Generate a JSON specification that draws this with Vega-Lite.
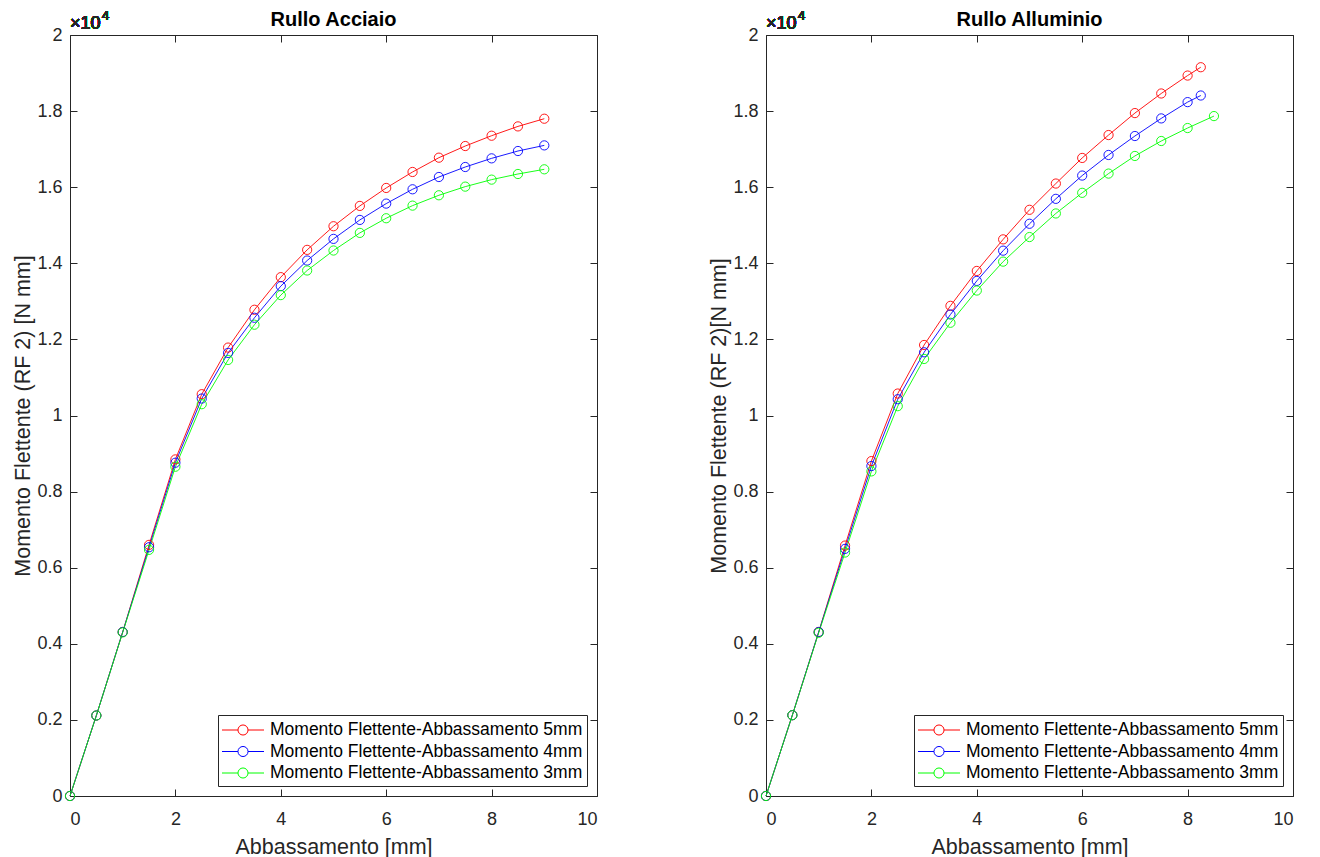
{
  "$schema": "https://vega.github.io/schema/vega-lite/v6.json",
  "background": "white",
  "padding": {"left": 12, "top": 9, "right": 20, "bottom": 0},
  "config": {
    "font": "Liberation Sans",
    "view": {"stroke": "#262626", "strokeWidth": 1},
    "axis": {"grid": false, "domainColor": "#262626", "tickColor": "#262626", "labelColor": "#262626", "titleColor": "#262626", "labelFont": "Liberation Sans", "titleFont": "Liberation Sans", "labelFontSize": 18, "titleFontSize": 21.5, "titleFontWeight": "normal", "tickSize": -7, "domainWidth": 1},
    "title": {"font": "Liberation Sans", "fontSize": 20, "fontWeight": "bold", "color": "#000000", "offset": -20},
    "legend": {"labelFont": "Liberation Sans"}
  },
  "datasets": {
    "d": [
      {"p": "A", "s": "Momento Flettente-Abbassamento 5mm", "x": 0, "y": 0},
      {"p": "A", "s": "Momento Flettente-Abbassamento 5mm", "x": 0.5, "y": 2115},
      {"p": "A", "s": "Momento Flettente-Abbassamento 5mm", "x": 1, "y": 4310},
      {"p": "A", "s": "Momento Flettente-Abbassamento 5mm", "x": 1.5, "y": 6600},
      {"p": "A", "s": "Momento Flettente-Abbassamento 5mm", "x": 2, "y": 8846},
      {"p": "A", "s": "Momento Flettente-Abbassamento 5mm", "x": 2.5, "y": 10560},
      {"p": "A", "s": "Momento Flettente-Abbassamento 5mm", "x": 3, "y": 11785},
      {"p": "A", "s": "Momento Flettente-Abbassamento 5mm", "x": 3.5, "y": 12779},
      {"p": "A", "s": "Momento Flettente-Abbassamento 5mm", "x": 4, "y": 13636},
      {"p": "A", "s": "Momento Flettente-Abbassamento 5mm", "x": 4.5, "y": 14353},
      {"p": "A", "s": "Momento Flettente-Abbassamento 5mm", "x": 5, "y": 14974},
      {"p": "A", "s": "Momento Flettente-Abbassamento 5mm", "x": 5.5, "y": 15508},
      {"p": "A", "s": "Momento Flettente-Abbassamento 5mm", "x": 6, "y": 15980},
      {"p": "A", "s": "Momento Flettente-Abbassamento 5mm", "x": 6.5, "y": 16400},
      {"p": "A", "s": "Momento Flettente-Abbassamento 5mm", "x": 7, "y": 16776},
      {"p": "A", "s": "Momento Flettente-Abbassamento 5mm", "x": 7.5, "y": 17082},
      {"p": "A", "s": "Momento Flettente-Abbassamento 5mm", "x": 8, "y": 17353},
      {"p": "A", "s": "Momento Flettente-Abbassamento 5mm", "x": 8.5, "y": 17598},
      {"p": "A", "s": "Momento Flettente-Abbassamento 5mm", "x": 9, "y": 17800},
      {"p": "A", "s": "Momento Flettente-Abbassamento 4mm", "x": 0, "y": 0},
      {"p": "A", "s": "Momento Flettente-Abbassamento 4mm", "x": 0.5, "y": 2115},
      {"p": "A", "s": "Momento Flettente-Abbassamento 4mm", "x": 1, "y": 4310},
      {"p": "A", "s": "Momento Flettente-Abbassamento 4mm", "x": 1.5, "y": 6538},
      {"p": "A", "s": "Momento Flettente-Abbassamento 4mm", "x": 2, "y": 8759},
      {"p": "A", "s": "Momento Flettente-Abbassamento 4mm", "x": 2.5, "y": 10446},
      {"p": "A", "s": "Momento Flettente-Abbassamento 4mm", "x": 3, "y": 11645},
      {"p": "A", "s": "Momento Flettente-Abbassamento 4mm", "x": 3.5, "y": 12569},
      {"p": "A", "s": "Momento Flettente-Abbassamento 4mm", "x": 4, "y": 13400},
      {"p": "A", "s": "Momento Flettente-Abbassamento 4mm", "x": 4.5, "y": 14073},
      {"p": "A", "s": "Momento Flettente-Abbassamento 4mm", "x": 5, "y": 14642},
      {"p": "A", "s": "Momento Flettente-Abbassamento 4mm", "x": 5.5, "y": 15140},
      {"p": "A", "s": "Momento Flettente-Abbassamento 4mm", "x": 6, "y": 15569},
      {"p": "A", "s": "Momento Flettente-Abbassamento 4mm", "x": 6.5, "y": 15945},
      {"p": "A", "s": "Momento Flettente-Abbassamento 4mm", "x": 7, "y": 16268},
      {"p": "A", "s": "Momento Flettente-Abbassamento 4mm", "x": 7.5, "y": 16531},
      {"p": "A", "s": "Momento Flettente-Abbassamento 4mm", "x": 8, "y": 16758},
      {"p": "A", "s": "Momento Flettente-Abbassamento 4mm", "x": 8.5, "y": 16951},
      {"p": "A", "s": "Momento Flettente-Abbassamento 4mm", "x": 9, "y": 17099},
      {"p": "A", "s": "Momento Flettente-Abbassamento 3mm", "x": 0, "y": 0},
      {"p": "A", "s": "Momento Flettente-Abbassamento 3mm", "x": 0.5, "y": 2115},
      {"p": "A", "s": "Momento Flettente-Abbassamento 3mm", "x": 1, "y": 4300},
      {"p": "A", "s": "Momento Flettente-Abbassamento 3mm", "x": 1.5, "y": 6469},
      {"p": "A", "s": "Momento Flettente-Abbassamento 3mm", "x": 2, "y": 8654},
      {"p": "A", "s": "Momento Flettente-Abbassamento 3mm", "x": 2.5, "y": 10297},
      {"p": "A", "s": "Momento Flettente-Abbassamento 3mm", "x": 3, "y": 11460},
      {"p": "A", "s": "Momento Flettente-Abbassamento 3mm", "x": 3.5, "y": 12386},
      {"p": "A", "s": "Momento Flettente-Abbassamento 3mm", "x": 4, "y": 13164},
      {"p": "A", "s": "Momento Flettente-Abbassamento 3mm", "x": 4.5, "y": 13811},
      {"p": "A", "s": "Momento Flettente-Abbassamento 3mm", "x": 5, "y": 14336},
      {"p": "A", "s": "Momento Flettente-Abbassamento 3mm", "x": 5.5, "y": 14799},
      {"p": "A", "s": "Momento Flettente-Abbassamento 3mm", "x": 6, "y": 15184},
      {"p": "A", "s": "Momento Flettente-Abbassamento 3mm", "x": 6.5, "y": 15516},
      {"p": "A", "s": "Momento Flettente-Abbassamento 3mm", "x": 7, "y": 15788},
      {"p": "A", "s": "Momento Flettente-Abbassamento 3mm", "x": 7.5, "y": 16015},
      {"p": "A", "s": "Momento Flettente-Abbassamento 3mm", "x": 8, "y": 16199},
      {"p": "A", "s": "Momento Flettente-Abbassamento 3mm", "x": 8.5, "y": 16347},
      {"p": "A", "s": "Momento Flettente-Abbassamento 3mm", "x": 9, "y": 16470},
      {"p": "B", "s": "Momento Flettente-Abbassamento 5mm", "x": 0, "y": 0},
      {"p": "B", "s": "Momento Flettente-Abbassamento 5mm", "x": 0.5, "y": 2124},
      {"p": "B", "s": "Momento Flettente-Abbassamento 5mm", "x": 1, "y": 4310},
      {"p": "B", "s": "Momento Flettente-Abbassamento 5mm", "x": 1.5, "y": 6582},
      {"p": "B", "s": "Momento Flettente-Abbassamento 5mm", "x": 2, "y": 8802},
      {"p": "B", "s": "Momento Flettente-Abbassamento 5mm", "x": 2.5, "y": 10577},
      {"p": "B", "s": "Momento Flettente-Abbassamento 5mm", "x": 3, "y": 11853},
      {"p": "B", "s": "Momento Flettente-Abbassamento 5mm", "x": 3.5, "y": 12882},
      {"p": "B", "s": "Momento Flettente-Abbassamento 5mm", "x": 4, "y": 13799},
      {"p": "B", "s": "Momento Flettente-Abbassamento 5mm", "x": 4.5, "y": 14629},
      {"p": "B", "s": "Momento Flettente-Abbassamento 5mm", "x": 5, "y": 15406},
      {"p": "B", "s": "Momento Flettente-Abbassamento 5mm", "x": 5.5, "y": 16096},
      {"p": "B", "s": "Momento Flettente-Abbassamento 5mm", "x": 6, "y": 16769},
      {"p": "B", "s": "Momento Flettente-Abbassamento 5mm", "x": 6.5, "y": 17371},
      {"p": "B", "s": "Momento Flettente-Abbassamento 5mm", "x": 7, "y": 17948},
      {"p": "B", "s": "Momento Flettente-Abbassamento 5mm", "x": 7.5, "y": 18463},
      {"p": "B", "s": "Momento Flettente-Abbassamento 5mm", "x": 8, "y": 18934},
      {"p": "B", "s": "Momento Flettente-Abbassamento 5mm", "x": 8.25, "y": 19153},
      {"p": "B", "s": "Momento Flettente-Abbassamento 4mm", "x": 0, "y": 0},
      {"p": "B", "s": "Momento Flettente-Abbassamento 4mm", "x": 0.5, "y": 2124},
      {"p": "B", "s": "Momento Flettente-Abbassamento 4mm", "x": 1, "y": 4310},
      {"p": "B", "s": "Momento Flettente-Abbassamento 4mm", "x": 1.5, "y": 6495},
      {"p": "B", "s": "Momento Flettente-Abbassamento 4mm", "x": 2, "y": 8671},
      {"p": "B", "s": "Momento Flettente-Abbassamento 4mm", "x": 2.5, "y": 10428},
      {"p": "B", "s": "Momento Flettente-Abbassamento 4mm", "x": 3, "y": 11661},
      {"p": "B", "s": "Momento Flettente-Abbassamento 4mm", "x": 3.5, "y": 12655},
      {"p": "B", "s": "Momento Flettente-Abbassamento 4mm", "x": 4, "y": 13537},
      {"p": "B", "s": "Momento Flettente-Abbassamento 4mm", "x": 4.5, "y": 14332},
      {"p": "B", "s": "Momento Flettente-Abbassamento 4mm", "x": 5, "y": 15039},
      {"p": "B", "s": "Momento Flettente-Abbassamento 4mm", "x": 5.5, "y": 15694},
      {"p": "B", "s": "Momento Flettente-Abbassamento 4mm", "x": 6, "y": 16306},
      {"p": "B", "s": "Momento Flettente-Abbassamento 4mm", "x": 6.5, "y": 16847},
      {"p": "B", "s": "Momento Flettente-Abbassamento 4mm", "x": 7, "y": 17345},
      {"p": "B", "s": "Momento Flettente-Abbassamento 4mm", "x": 7.5, "y": 17808},
      {"p": "B", "s": "Momento Flettente-Abbassamento 4mm", "x": 8, "y": 18236},
      {"p": "B", "s": "Momento Flettente-Abbassamento 4mm", "x": 8.25, "y": 18410},
      {"p": "B", "s": "Momento Flettente-Abbassamento 3mm", "x": 0, "y": 0},
      {"p": "B", "s": "Momento Flettente-Abbassamento 3mm", "x": 0.5, "y": 2124},
      {"p": "B", "s": "Momento Flettente-Abbassamento 3mm", "x": 1, "y": 4290},
      {"p": "B", "s": "Momento Flettente-Abbassamento 3mm", "x": 1.5, "y": 6399},
      {"p": "B", "s": "Momento Flettente-Abbassamento 3mm", "x": 2, "y": 8531},
      {"p": "B", "s": "Momento Flettente-Abbassamento 3mm", "x": 2.5, "y": 10245},
      {"p": "B", "s": "Momento Flettente-Abbassamento 3mm", "x": 3, "y": 11486},
      {"p": "B", "s": "Momento Flettente-Abbassamento 3mm", "x": 3.5, "y": 12437},
      {"p": "B", "s": "Momento Flettente-Abbassamento 3mm", "x": 4, "y": 13284},
      {"p": "B", "s": "Momento Flettente-Abbassamento 3mm", "x": 4.5, "y": 14044},
      {"p": "B", "s": "Momento Flettente-Abbassamento 3mm", "x": 5, "y": 14690},
      {"p": "B", "s": "Momento Flettente-Abbassamento 3mm", "x": 5.5, "y": 15310},
      {"p": "B", "s": "Momento Flettente-Abbassamento 3mm", "x": 6, "y": 15852},
      {"p": "B", "s": "Momento Flettente-Abbassamento 3mm", "x": 6.5, "y": 16358},
      {"p": "B", "s": "Momento Flettente-Abbassamento 3mm", "x": 7, "y": 16821},
      {"p": "B", "s": "Momento Flettente-Abbassamento 3mm", "x": 7.5, "y": 17214},
      {"p": "B", "s": "Momento Flettente-Abbassamento 3mm", "x": 8, "y": 17555},
      {"p": "B", "s": "Momento Flettente-Abbassamento 3mm", "x": 8.5, "y": 17869}
    ]
  },
  "data": {"name": "d"},
  "spacing": 169,
  "bounds": "flush",
  "resolve": {"scale": {"color": "independent"}},
  "hconcat": [
    {
      "width": 527,
      "height": 761,
      "title": "Rullo Acciaio",
      "transform": [{"filter": "datum.p === 'A'"}],
      "resolve": {"axis": {"x": "independent", "y": "independent"}},
      "layer": [
        {
          "mark": {"type": "line", "strokeWidth": 0.9, "point": {"filled": false, "size": 85, "strokeWidth": 0.9}},
          "encoding": {
            "x": {"field": "x", "type": "quantitative", "scale": {"domain": [0, 10], "nice": false}, "axis": {"orient": "bottom", "values": [0, 2, 4, 6, 8, 10], "title": "Abbassamento [mm]", "domain": false, "labelPadding": 21, "titlePadding": 8}},
            "y": {"field": "y", "type": "quantitative", "scale": {"domain": [0, 20000], "nice": false}, "axis": {"orient": "left", "values": [0, 2000, 4000, 6000, 8000, 10000, 12000, 14000, 16000, 18000, 20000], "labelExpr": "'' + datum.value / 10000", "title": "Momento Flettente (RF 2) [N mm]", "domain": false, "labelPadding": 15, "titlePadding": 2}},
            "color": {"field": "s", "type": "nominal", "sort": null,
              "scale": {"domain": ["Momento Flettente-Abbassamento 5mm", "Momento Flettente-Abbassamento 4mm", "Momento Flettente-Abbassamento 3mm"], "range": ["#ff0000", "#0000ff", "#00ff00"]},
              "legend": {"title": null, "orient": "bottom-right", "offset": 10, "fillColor": "white", "strokeColor": "#262626", "padding": 4, "labelFontSize": 17.5, "labelColor": "#000000", "labelLimit": 500, "labelOffset": 26, "rowPadding": 1.5,
                "symbolType": "M-2,0H-0.48M0.48,0H2M-0.48,0A0.48,0.48,0,1,1,0.48,0A0.48,0.48,0,1,1,-0.48,0", "symbolSize": 441, "symbolStrokeWidth": 1,
                "encode": {"symbols": {"update": {"x": {"value": 21}, "fill": {"value": "transparent"}, "strokeWidth": {"value": 1}}}}}}
          }
        },
        {
          "mark": {"type": "point", "opacity": 0},
          "encoding": {
            "x": {"field": "x", "type": "quantitative", "scale": {"domain": [0, 10], "nice": false}, "axis": {"orient": "top", "values": [0, 2, 4, 6, 8, 10], "labels": false, "title": null, "domain": false}},
            "y": {"field": "y", "type": "quantitative", "scale": {"domain": [0, 20000], "nice": false}, "axis": {"orient": "right", "values": [0, 2000, 4000, 6000, 8000, 10000, 12000, 14000, 16000, 18000, 20000], "labels": false, "title": null, "domain": false}}
          }
        },
        {
          "mark": {"type": "text", "align": "left", "baseline": "bottom", "fontSize": 18, "dx": 0, "dy": -2, "color": "#262626"},
          "encoding": {"x": {"datum": 0, "type": "quantitative", "axis": null}, "y": {"datum": 20000, "type": "quantitative", "axis": null}, "text": {"value": "×10"}}
        },
        {
          "mark": {"type": "text", "align": "left", "baseline": "bottom", "fontSize": 13, "dx": 32, "dy": -12, "color": "#262626"},
          "encoding": {"x": {"datum": 0, "type": "quantitative", "axis": null}, "y": {"datum": 20000, "type": "quantitative", "axis": null}, "text": {"value": "4"}}
        }
      ]
    },
    {
      "width": 527,
      "height": 761,
      "title": "Rullo Alluminio",
      "transform": [{"filter": "datum.p === 'B'"}],
      "resolve": {"axis": {"x": "independent", "y": "independent"}},
      "layer": [
        {
          "mark": {"type": "line", "strokeWidth": 0.9, "point": {"filled": false, "size": 85, "strokeWidth": 0.9}},
          "encoding": {
            "x": {"field": "x", "type": "quantitative", "scale": {"domain": [0, 10], "nice": false}, "axis": {"orient": "bottom", "values": [0, 2, 4, 6, 8, 10], "title": "Abbassamento [mm]", "domain": false, "labelPadding": 21, "titlePadding": 8}},
            "y": {"field": "y", "type": "quantitative", "scale": {"domain": [0, 20000], "nice": false}, "axis": {"orient": "left", "values": [0, 2000, 4000, 6000, 8000, 10000, 12000, 14000, 16000, 18000, 20000], "labelExpr": "'' + datum.value / 10000", "title": "Momento Flettente (RF 2)[N mm]", "domain": false, "labelPadding": 15, "titlePadding": 2}},
            "color": {"field": "s", "type": "nominal", "sort": null,
              "scale": {"domain": ["Momento Flettente-Abbassamento 5mm", "Momento Flettente-Abbassamento 4mm", "Momento Flettente-Abbassamento 3mm"], "range": ["#ff0000", "#0000ff", "#00ff00"]},
              "legend": {"title": null, "orient": "bottom-right", "offset": 10, "fillColor": "white", "strokeColor": "#262626", "padding": 4, "labelFontSize": 17.5, "labelColor": "#000000", "labelLimit": 500, "labelOffset": 26, "rowPadding": 1.5,
                "symbolType": "M-2,0H-0.48M0.48,0H2M-0.48,0A0.48,0.48,0,1,1,0.48,0A0.48,0.48,0,1,1,-0.48,0", "symbolSize": 441, "symbolStrokeWidth": 1,
                "encode": {"symbols": {"update": {"x": {"value": 21}, "fill": {"value": "transparent"}, "strokeWidth": {"value": 1}}}}}}
          }
        },
        {
          "mark": {"type": "point", "opacity": 0},
          "encoding": {
            "x": {"field": "x", "type": "quantitative", "scale": {"domain": [0, 10], "nice": false}, "axis": {"orient": "top", "values": [0, 2, 4, 6, 8, 10], "labels": false, "title": null, "domain": false}},
            "y": {"field": "y", "type": "quantitative", "scale": {"domain": [0, 20000], "nice": false}, "axis": {"orient": "right", "values": [0, 2000, 4000, 6000, 8000, 10000, 12000, 14000, 16000, 18000, 20000], "labels": false, "title": null, "domain": false}}
          }
        },
        {
          "mark": {"type": "text", "align": "left", "baseline": "bottom", "fontSize": 18, "dx": 0, "dy": -2, "color": "#262626"},
          "encoding": {"x": {"datum": 0, "type": "quantitative", "axis": null}, "y": {"datum": 20000, "type": "quantitative", "axis": null}, "text": {"value": "×10"}}
        },
        {
          "mark": {"type": "text", "align": "left", "baseline": "bottom", "fontSize": 13, "dx": 32, "dy": -12, "color": "#262626"},
          "encoding": {"x": {"datum": 0, "type": "quantitative", "axis": null}, "y": {"datum": 20000, "type": "quantitative", "axis": null}, "text": {"value": "4"}}
        }
      ]
    }
  ]
}
